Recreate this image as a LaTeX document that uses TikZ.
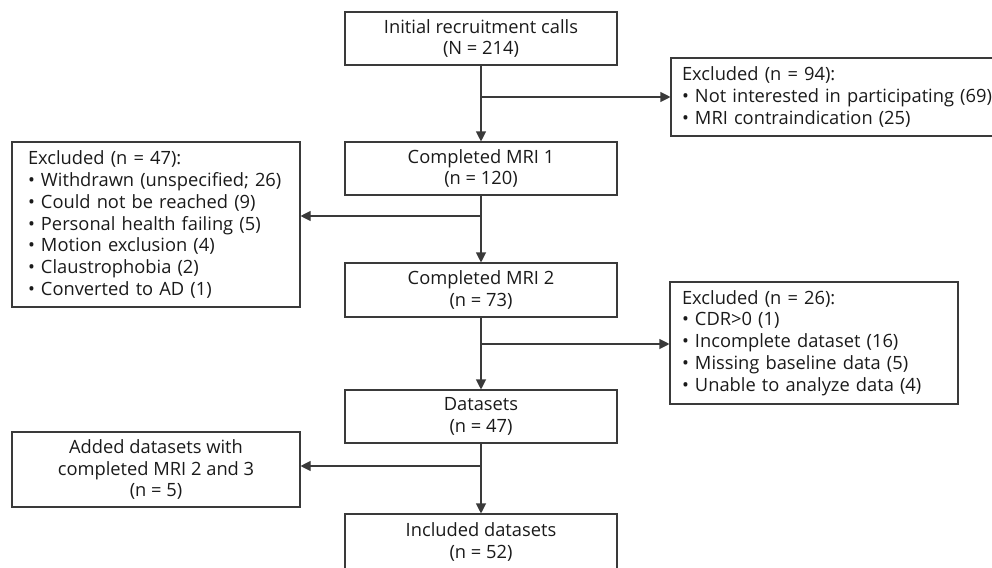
\documentclass[tikz,border=0pt]{standalone}
\usepackage{fontspec}
\setmainfont{Open Sans}
\usetikzlibrary{arrows.meta}
\definecolor{linec}{HTML}{3A3A3A}
\definecolor{txt}{HTML}{1A1A1A}
\begin{document}
\begin{tikzpicture}[x=1pt,y=-1pt,
  box/.style={draw=linec, line width=1.1pt, text=txt, font=\fontsize{18.3}{21.8}\selectfont, inner sep=0pt, align=center},
  listbox/.style={box, align=left},
  arr/.style={draw=linec, line width=1.1pt, -{Triangle[length=10pt,width=10pt]}}]
\useasboundingbox (0,0) rectangle (992,567);
\node[box, minimum width=272pt, minimum height=53pt] (init) at (481,38.5) {Initial recruitment calls\\(N = 214)};
\node[box, minimum width=272pt, minimum height=53pt] (mri1) at (481,168.5) {Completed MRI 1\\(n = 120)};
\node[box, minimum width=272pt, minimum height=54pt] (mri2) at (481,290) {Completed MRI 2\\(n = 73)};
\node[box, minimum width=272pt, minimum height=53pt] (data) at (481,416.5) {Datasets\\(n = 47)};
\node[box, minimum width=272pt, minimum height=56pt] (incl) at (481,542) {Included datasets\\(n = 52)};
\node[listbox, minimum width=352pt, minimum height=78pt, inner xsep=11pt, text width=330pt] (ex94) at (847,97) {Excluded (n = 94):\\• Not interested in participating (69)\\• MRI contraindication (25)};
\node[listbox, minimum width=288pt, minimum height=165pt, inner xsep=16pt, text width=256pt] (ex47) at (156,224.5) {Excluded (n = 47):\\• Withdrawn (unspecified; 26)\\• Could not be reached (9)\\• Personal health failing (5)\\• Motion exclusion (4)\\• Claustrophobia (2)\\• Converted to AD (1)};
\node[listbox, minimum width=288pt, minimum height=122pt, inner xsep=12pt, text width=264pt] (ex26) at (814,343) {Excluded (n = 26):\\• CDR>0 (1)\\• Incomplete dataset (16)\\• Missing baseline data (5)\\• Unable to analyze data (4)};
\node[box, minimum width=288pt, minimum height=75pt] (added) at (156,469.5) {Added datasets with\\completed MRI 2 and 3\\(n = 5)};
\coordinate (b1) at (481,97);
\coordinate (b2) at (481,216);
\coordinate (b3) at (481,344);
\coordinate (b4) at (481,466);
\draw[arr] (init) -- (mri1);
\draw[arr] (mri1) -- (mri2);
\draw[arr] (mri2) -- (data);
\draw[arr] (data) -- (incl);
\draw[arr] (b1) -- (ex94.west |- b1);
\draw[arr] (b2) -- (ex47.east |- b2);
\draw[arr] (b3) -- (ex26.west |- b3);
\draw[arr] (b4) -- (added.east |- b4);
\end{tikzpicture}
\end{document}
